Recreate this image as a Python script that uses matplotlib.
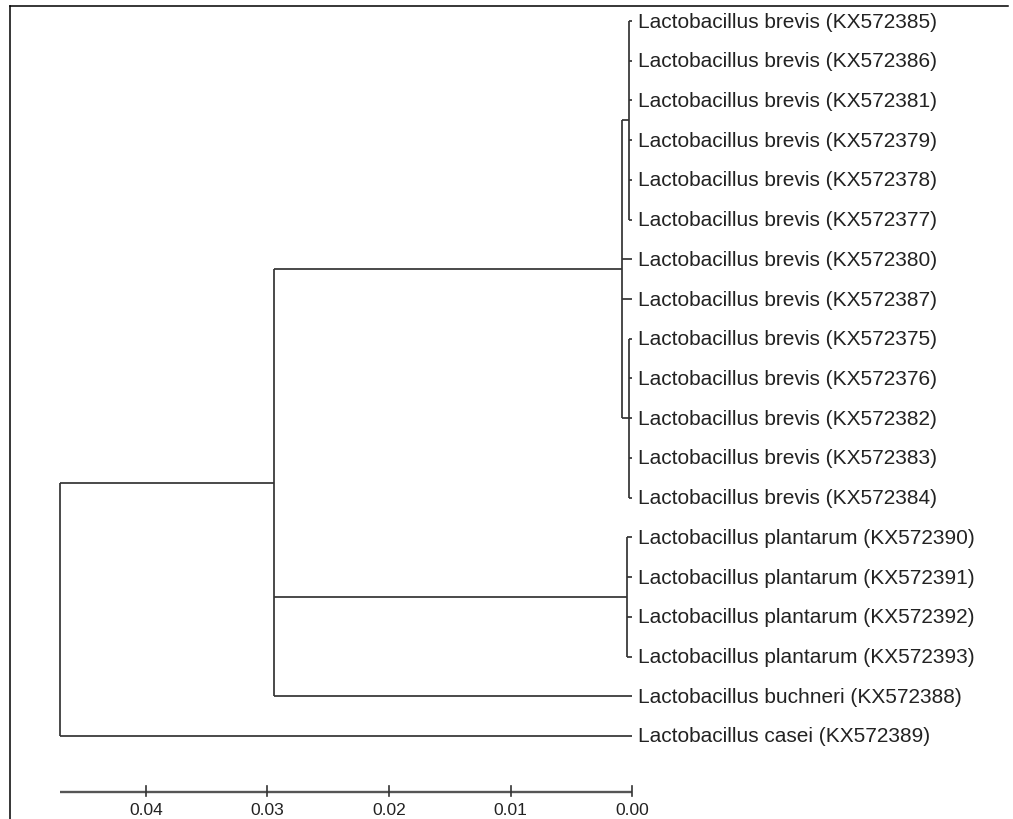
import matplotlib
matplotlib.use("Agg")
from matplotlib import pyplot as plt
from matplotlib.lines import Line2D

# leaf names, top to bottom
leaf_labels = [
    "Lactobacillus brevis (KX572385)",
    "Lactobacillus brevis (KX572386)",
    "Lactobacillus brevis (KX572381)",
    "Lactobacillus brevis (KX572379)",
    "Lactobacillus brevis (KX572378)",
    "Lactobacillus brevis (KX572377)",
    "Lactobacillus brevis (KX572380)",
    "Lactobacillus brevis (KX572387)",
    "Lactobacillus brevis (KX572375)",
    "Lactobacillus brevis (KX572376)",
    "Lactobacillus brevis (KX572382)",
    "Lactobacillus brevis (KX572383)",
    "Lactobacillus brevis (KX572384)",
    "Lactobacillus plantarum (KX572390)",
    "Lactobacillus plantarum (KX572391)",
    "Lactobacillus plantarum (KX572392)",
    "Lactobacillus plantarum (KX572393)",
    "Lactobacillus buchneri (KX572388)",
    "Lactobacillus casei (KX572389)",
]

# internal nodes: name, height (distance), children (leaf index or node name)
node_names = ["brevis_a", "brevis_b", "brevis", "plantarum", "node_03", "root"]
node_heights = [0.00025, 0.00025, 0.0008, 0.0004, 0.0295, 0.0471]
node_children = [
    [0, 1, 2, 3, 4, 5],
    [8, 9, 10, 11, 12],
    ["brevis_a", 6, 7, "brevis_b"],
    [13, 14, 15, 16],
    ["brevis", "plantarum", 17],
    ["node_03", 18],
]

scale_ticks = [0.04, 0.03, 0.02, 0.01, 0.00]
scale_labels = ["0.04", "0.03", "0.02", "0.01", "0.00"]

LINE_COLOR = "#333333"
LW = 1.25

W, H = 1013, 820
fig = plt.figure(figsize=(W / 100, H / 100), dpi=100)
ax = fig.add_axes([0, 0, 1, 1])
ax.axis("off")

# pixel mapping: x=0 at 632px, 121.5px per 0.01 ; leaf 0 at 22px, 39.72px per leaf
px0, px_per = 632.0, 12150.0
py0, py_per = 22.0, 39.72
ax.set_xlim((px0 - 0) / px_per, (px0 - W) / px_per)
ax.set_ylim((H - py0) / py_per, (0 - py0) / py_per)

nodes = dict(zip(node_names, zip(node_heights, node_children)))


def draw(child, parent_h):
    # returns y of child, draws its horizontal branch and subtree
    if isinstance(child, int):
        y = child
        h = 0.0
    else:
        h, kids = nodes[child]
        ys = [draw(k, h) for k in kids]
        y = (ys[0] + ys[-1]) / 2.0
        ax.plot([h, h], [ys[0], ys[-1]], color=LINE_COLOR, lw=LW, solid_capstyle="butt")
    if parent_h is not None:
        ax.plot([parent_h, h], [y, y], color=LINE_COLOR, lw=LW, solid_capstyle="butt")
    return y


draw("root", None)

for i, name in enumerate(leaf_labels):
    ax.annotate(name, (0, i), xytext=(4, 0), textcoords="offset points",
                ha="left", va="center", fontsize=15, color="#222222",
                family=["Liberation Sans", "DejaVu Sans"])

# scale bar
bar_y = (793 - py0) / py_per
root_h = node_heights[-1]
ax.plot([root_h, 0], [bar_y, bar_y], color="#555555", lw=1.7, solid_capstyle="butt")
for t, lab in zip(scale_ticks, scale_labels):
    ax.plot([t, t], [(787 - py0) / py_per, (797 - py0) / py_per], color="#333333", lw=1.2)
    ax.text(t, (815 - py0) / py_per, lab, ha="center", va="baseline", fontsize=12.5,
            color="#222222", family=["Liberation Sans", "DejaVu Sans"])

# frame lines (left and top)
fig.add_artist(Line2D([9.5 / W, 9.5 / W], [0, 1 - 7 / H], color="black", lw=1.1))
fig.add_artist(Line2D([9.5 / W, 1008 / W], [1 - 7 / H, 1 - 7 / H], color="black", lw=1.1))

fig.savefig("out.png", dpi=100, facecolor="white")
